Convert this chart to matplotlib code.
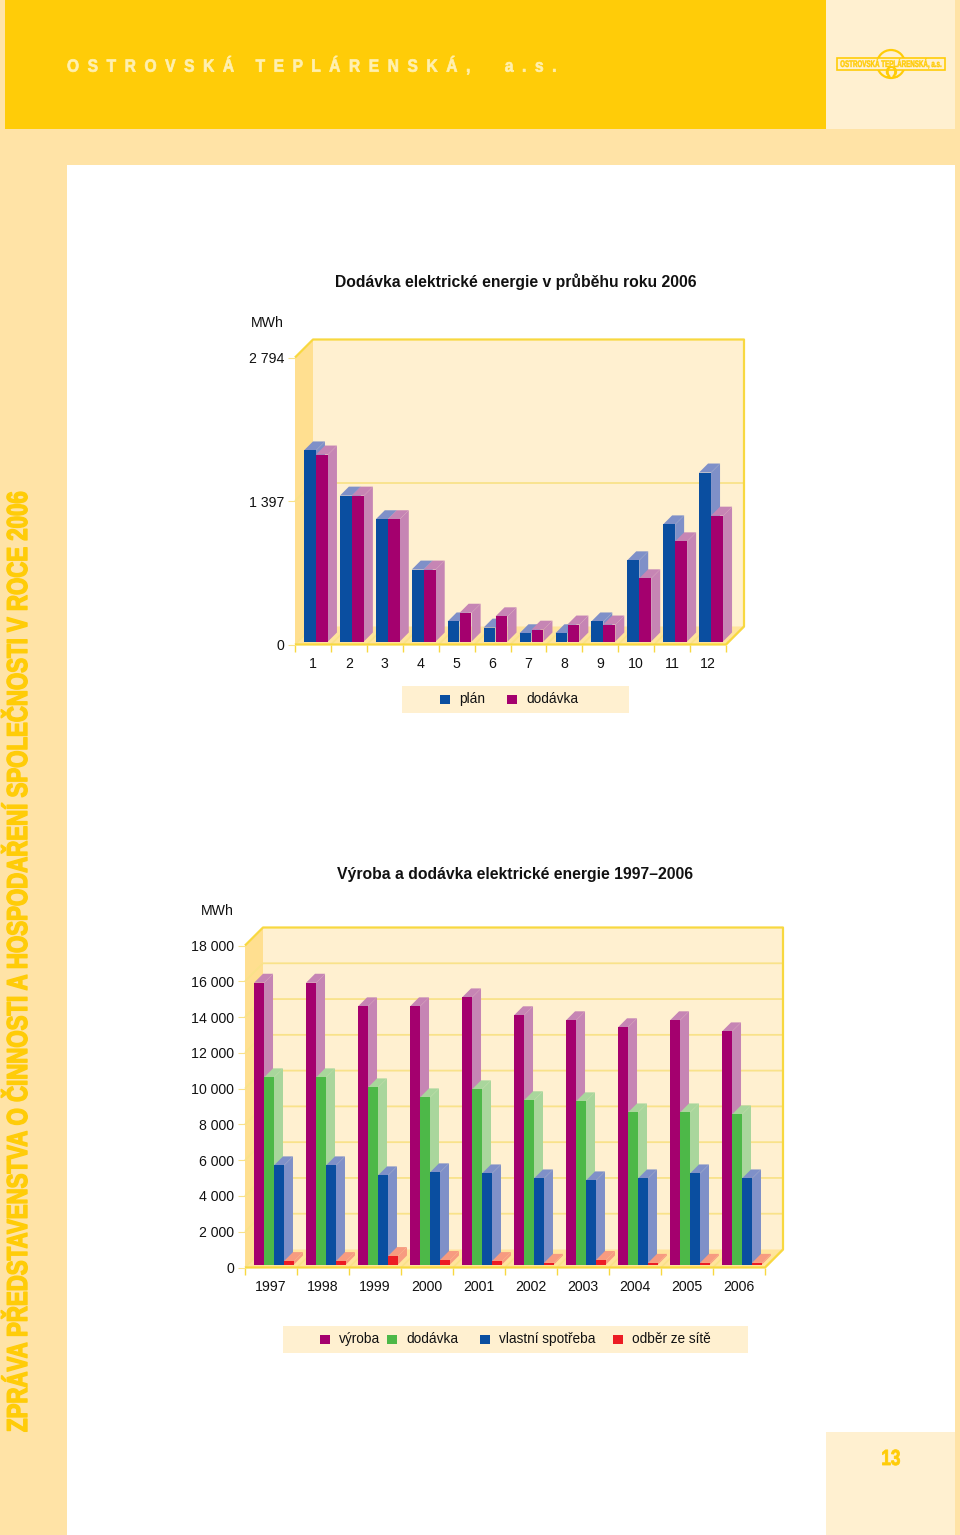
import matplotlib
matplotlib.use("Agg")
import matplotlib.pyplot as plt
from matplotlib.patches import Polygon, Rectangle, Circle
from matplotlib.patheffects import AbstractPathEffect
from matplotlib.transforms import Affine2D

# ---------- data ----------
months = ["1","2","3","4","5","6","7","8","9","10","11","12"]
plan = [1860,1420,1190,700,195,135,80,80,195,790,1140,1645]
dodavka = [1820,1420,1190,700,280,245,115,165,165,615,975,1225]
y1_ticks = [0,1397,2794]
y1_labels = ["0","1 397","2 794"]

years = ["1997","1998","1999","2000","2001","2002","2003","2004","2005","2006"]
vyroba = [15750,15750,14430,14430,14930,13930,13650,13260,13650,13030]
dodavka_r = [10460,10460,9900,9340,9790,9180,9120,8500,8500,8390]
spotreba = [5540,5540,4980,5150,5090,4810,4700,4810,5090,4810]
odber = [190,190,470,250,190,90,250,90,90,90]
y2_ticks = list(range(0,18001,2000))
y2_labels = ["0","2 000","4 000","6 000","8 000","10 000","12 000","14 000","16 000","18 000"]

# ---------- style ----------
W,H = 960,1535
BAND="#FFE3A6"; HEAD="#FFCC08"; PALE="#FFF0D0"; WALL="#FFDF90"; FLOOR="#FFE49C"; GRID="#F9E28A"; AX="#F8D840"
BLUE="#0A4EA0"; BLUE2="#7F90C8"; MAG="#A4006E"; MAG2="#C685B4"
GRN="#4DB848"; GRN2="#A9D69C"; RED="#EC1C24"; RED2="#F79B80"
FONT="Liberation Sans"; TXT="#111111"; LS=9.8

fig = plt.figure(figsize=(W/100,H/100),dpi=100,facecolor="white")
bg = fig.add_axes([0,0,1,1]); bg.set_xlim(0,W); bg.set_ylim(H,0); bg.axis("off")

class Stretch(AbstractPathEffect):
    """Condense/stretch real text about a line, standing in for the condensed face."""
    def __init__(self,sx,sy,cx,cy,lw=0):
        super().__init__()
        self.a=Affine2D().translate(-cx,-cy).scale(sx,sy).translate(cx,cy); self.lw=lw
    def draw_path(self,renderer,gc,tpath,affine,rgbFace=None):
        g=renderer.new_gc(); g.copy_properties(gc)
        if self.lw:
            g.set_linewidth(self.lw); g.set_foreground(rgbFace[:3])
        renderer.draw_path(g,tpath,affine+self.a,rgbFace); g.restore()

def fit(t,length):
    fig.canvas.draw()
    e=t.get_window_extent()
    t.set_fontsize(t.get_fontsize()*length/max(e.width,e.height))

def box(x0,y0,x1,y1,c):
    bg.add_patch(Rectangle((x0,y0),x1-x0,y1-y0,fc=c,ec="none"))
box(0,0,W,H,BAND)
box(67,165,955,H,"white")
box(5,0,826,129,HEAD)
box(826,0,955,129,PALE)
box(826,1432,955,H,PALE)

CAP=0.729
t=bg.text(67,71.7,"O  S  T  R  O  V  S  K  Á     T  E  P  L  Á  R  E  N  S  K  Á  ,        a  .  s  .",
        family=FONT,weight="bold",fontsize=11,color="#FFF0B0",va="baseline",ha="left")
fit(t,489)
fpx=t.get_fontsize()*100/72
t.set_path_effects([Stretch(1,13/(CAP*fpx),0,H-71.7,lw=0.5)])

t=bg.text(27,1432,"ZPRÁVA PŘEDSTAVENSTVA O ČINNOSTI A HOSPODAŘENÍ SPOLEČNOSTI V ROCE 2006",
        family=FONT,weight="bold",fontsize=14,color="#FFCC08",rotation=90,va="baseline",ha="left",
        rotation_mode="anchor")
fit(t,942)
fpx=t.get_fontsize()*100/72
t.set_path_effects([Stretch(21/(CAP*fpx),1,27,0,lw=1.0)])

t=bg.text(891,1465,"13",family=FONT,weight="bold",fontsize=12.3,color="#FFCC08",ha="center",va="baseline")
t.set_path_effects([Stretch(1,16/(CAP*12.3*100/72),0,H-1465,lw=0.6)])

# logo
bg.add_patch(Circle((891,64),14,fc="none",ec="#FFCC08",lw=1.6))
bg.add_patch(Rectangle((837,58),108,11.5,fc=PALE,ec="#FFCC08",lw=1.2))
t=bg.text(891,67,"OSTROVSKÁ TEPLÁRENSKÁ, a.s.",family=FONT,weight="bold",fontsize=6,color="#FFCC08",ha="center",va="baseline")
fit(t,102)
fpx=t.get_fontsize()*100/72
t.set_path_effects([Stretch(1,7/(CAP*fpx),0,H-67,lw=0.3)])
bg.text(891,74,"Ω",family="DejaVu Sans",weight="bold",fontsize=11,color="#FFCC08",ha="center",va="center")

def add_axes_px(l,r,top,bottom):
    ax = fig.add_axes([l/W,1-bottom/H,(r-l)/W,(bottom-top)/H])
    ax.patch.set_alpha(0)
    return ax

def chart(ax,cats,series,colors,sides,ticks,tlabels,ymax,width,depth,shift,mwh_y,title,title_y,title_x):
    n=len(cats)
    ax.set_xlim(0.5,n+0.5); ax.set_ylim(0,ymax)
    fig.canvas.draw()
    T=ax.transData.transform
    def P(x,y,d=0,s=0):
        px,py=T((x,y)); return (px+d+s,py+d+s)
    wd=18
    def poly(pts,fc,z=1):
        ax.add_patch(Polygon(pts,closed=True,fc=fc,ec="none",transform=None,zorder=z,clip_on=False))
    def line(pts,c,lw,z=1.3):
        ax.plot(*zip(*pts),color=c,lw=lw,transform=None,zorder=z,clip_on=False,solid_capstyle="butt")
    x0,x1=0.5,n+0.5
    # walls
    poly([P(x0,0,wd),P(x1,0,wd),P(x1,ymax,wd),P(x0,ymax,wd)],PALE,1)
    poly([P(x0,0),P(x0,0,wd),P(x0,ymax,wd),P(x0,ymax)],WALL,1.1)
    poly([P(x0,0),P(x1,0),P(x1,0,wd),P(x0,0,wd)],FLOOR,1.2)
    for v in ticks:
        if 0<v<ymax:
            line([P(x1,v,wd),P(x0,v,wd),P(x0,v)],GRID,1.3)
    for b in range(n+1):
        line([P(b+0.5,0),P(b+0.5,0,wd)],GRID,1.3)
    line([P(x0,0),P(x1,0),P(x1,0,wd),P(x1,ymax,wd),P(x0,ymax,wd),P(x0,ymax)],AX,1.6,1.35)
    # bars
    m=len(series)
    off=Affine2D().translate(shift,shift)
    z=2
    for i in range(n):
        for j,(vals,c,sc) in enumerate(zip(series,colors,sides)):
            xl=i+1+(j-m/2)*width; xr=xl+width; v=vals[i]
            poly([P(xl,v,0,shift),P(xr,v,0,shift),P(xr,v,depth,shift),P(xl,v,depth,shift)],sc,z)
            poly([P(xr,0,0,shift),P(xr,0,depth,shift),P(xr,v,depth,shift),P(xr,v,0,shift)],sc,z)
            ax.bar(i+1+(j-m/2+0.5)*width,v,width*0.97,color=c,zorder=z+0.01,
                   transform=ax.transData+off,clip_on=False)
            z+=0.02
    # axes furniture
    for s in ax.spines.values(): s.set_visible(False)
    ax.set_yticks(ticks,tlabels,family=FONT,fontsize=10.2,color=TXT)
    ax.tick_params(axis="y",length=5,width=0.8,color=GRID,pad=3)
    ax.set_xticks(range(1,n+1),cats,family=FONT,fontsize=10.2,color=TXT)
    ax.set_xticks([b+0.5 for b in range(n+1)],minor=True)
    ax.tick_params(axis="x",which="major",length=0,pad=9)
    ax.tick_params(axis="x",which="minor",length=5,width=1,color=AX)
    px=ax.get_position().x0*W
    bg.text(px-11,mwh_y,"MWh",family=FONT,fontsize=10.2,color=TXT,ha="right",va="center")
    bg.text(title_x,title_y,title,family=FONT,weight="bold",fontsize=11.3,color=TXT,ha="center",va="center")

ax1=add_axes_px(295,726,357.5,644.5)
chart(ax1,months,[plan,dodavka],[BLUE,MAG],[BLUE2,MAG2],y1_ticks,y1_labels,2794,0.334,9,3,323,
      "Dodávka elektrické energie v průběhu roku 2006",281.5,515.5)
ax2=add_axes_px(245,765,945.5,1267.5)
chart(ax2,years,[vyroba,dodavka_r,spotreba,odber],[MAG,GRN,BLUE,RED],[MAG2,GRN2,BLUE2,RED2],y2_ticks,y2_labels,18000,0.192,9,3,911,
      "Výroba a dodávka elektrické energie 1997–2006",874,515.5)

def legend(x0,x1,y0,y1,items):
    box(x0,y0,x1,y1,PALE)
    yc=(y0+y1)/2
    for sx,tx,c,t in items:
        box(sx,yc-4.5,sx+9.5,yc+4.5,c)
        bg.text(tx,yc-0.5,t,family=FONT,fontsize=LS,color=TXT,ha="left",va="center")
legend(402,629,686,713,[(440,459,BLUE,"plán"),(507,526,MAG,"dodávka")])
legend(283,748,1326,1353,[(320,339,MAG,"výroba"),(387,406,GRN,"dodávka"),(480,499,BLUE,"vlastní spotřeba"),(613,632,RED,"odběr ze sítě")])

fig.savefig("out.png",dpi=100)
